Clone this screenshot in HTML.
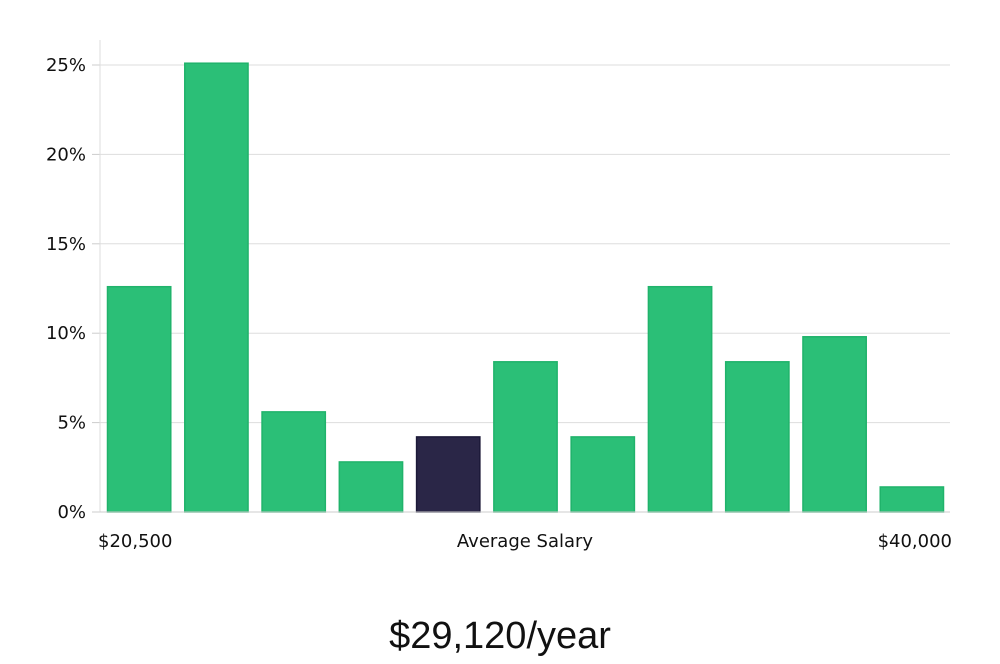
<!DOCTYPE html>
<html><head><meta charset="utf-8"><style>
body{margin:0;background:#fff;width:1000px;height:660px;overflow:hidden;font-family:"DejaVu Sans","Liberation Sans",sans-serif;}
</style></head><body>
<svg width="1000" height="660">
<g id="grid"></g><g id="bars"></g><g id="labels"></g>
<line x1="100" y1="40" x2="100" y2="512" stroke="#ddd"/>
<line x1="100" y1="512" x2="950" y2="512" stroke="#ccc"/>
<text x="98" y="547" font-size="18" fill="#111">$20,500</text>
<text x="525" y="547" font-size="18" fill="#111" text-anchor="middle">Average Salary</text>
<text x="952" y="547" font-size="18" fill="#111" text-anchor="end">$40,000</text>
<text x="500" y="648" font-size="38" fill="#111" text-anchor="middle" font-family="Liberation Sans, sans-serif" font-weight="300">$29,120/year</text>
</svg>
<script>
const values=[12.6,25.1,5.6,2.8,4.2,8.4,4.2,12.6,8.4,9.8,1.4];
const highlight=[false,false,false,false,true,false,false,false,false,false,false];
const ticks=[0,5,10,15,20,25];
const tickLabels=["0%","5%","10%","15%","20%","25%"];
const NS="http://www.w3.org/2000/svg";
const x0=100,x1=950,y0=512,pxPer=(512-65)/25;
const y=v=>y0-v*pxPer;
const band=(x1-x0)/values.length;
const g=document.getElementById('grid'),b=document.getElementById('bars');
ticks.forEach((t,i)=>{
 if(t>0){const l=document.createElementNS(NS,'line');
 l.setAttribute('x1',x0);l.setAttribute('x2',x1);l.setAttribute('y1',y(t));l.setAttribute('y2',y(t));l.setAttribute('stroke','#ddd');
 
 
 g.appendChild(l);}
 const k=document.createElementNS(NS,'line');
 k.setAttribute('x1',x0-8);k.setAttribute('x2',x0);k.setAttribute('y1',y(t));k.setAttribute('y2',y(t));k.setAttribute('stroke','#ccc');
 
 
 g.appendChild(k);
 const tx=document.createElementNS(NS,'text');
 tx.setAttribute('x',x0-14);tx.setAttribute('y',y(t)+6);tx.setAttribute('text-anchor','end');tx.setAttribute('font-size','18');tx.setAttribute('fill','#111');
 tx.textContent=tickLabels[i];
 
 
 g.appendChild(tx);
});
values.forEach((v,i)=>{
 const r=document.createElementNS(NS,'rect');
 const w=band-14;
 r.setAttribute('x',x0+i*band+7.5);r.setAttribute('y',y(v));r.setAttribute('width',w);r.setAttribute('height',y0-y(v));
 r.setAttribute('fill',highlight[i]?'#2a2647':'#2bbf77');
 r.setAttribute('stroke',highlight[i]?'#1c1938':'#20b36b');r.setAttribute('stroke-width','1.5');
 
 
 b.appendChild(r);
});
</script>
</body></html>
